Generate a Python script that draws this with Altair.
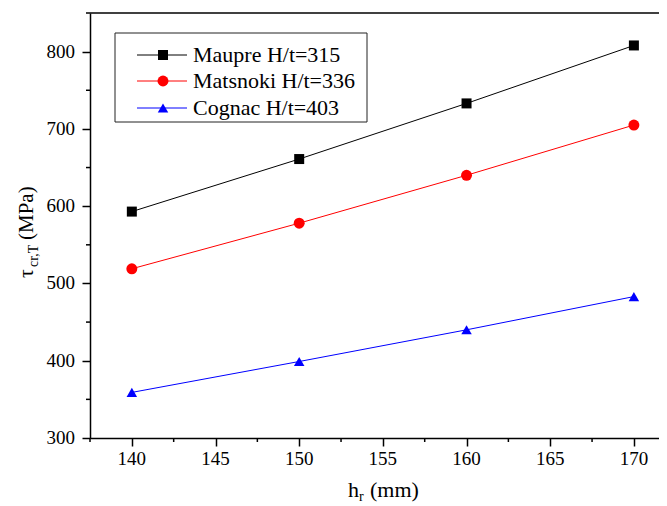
import altair as alt
import pandas as pd

hr = [140, 150, 160, 170]
maupre = [593, 661, 733, 808]
matsnoki = [519, 578, 640, 705]
cognac = [359, 399, 440, 483]

names = ["Maupre", "Matsnoki", "Cognac"]
ratios = ["315", "336", "403"]
colors = ["#000000", "#ff0000", "#0000ff"]
shapes = ["square", "circle", "triangle-up"]
sizes = [100, 120, 110]
series = [maupre, matsnoki, cognac]

x_major = [140, 145, 150, 155, 160, 165, 170]
x_minor = [137.5, 142.5, 147.5, 152.5, 157.5, 162.5, 167.5]
y_major = [300, 400, 500, 600, 700, 800]
y_minor = [350, 450, 550, 650, 750, 850]

FONT = "Liberation Serif"
W, H = 569, 425

# Times/Liberation Serif regular advance widths (em)
TW = {"M": .889, "a": .444, "u": .5, "p": .5, "r": .333, "e": .444, " ": .25,
      "t": .278, "s": .389, "n": .5, "o": .5, "k": .5, "i": .278, "C": .667,
      "g": .5, "c": .444}


def tw(s, size):
    return sum(TW.get(ch, .5) for ch in s) * size


rows = []
for n, vals in zip(names, series):
    for xv, yv in zip(hr, vals):
        rows.append({"hr": xv, "tau": yv, "series": n})
df = pd.DataFrame(rows)

xscale = alt.Scale(domain=[137.5, 171.5], nice=False, zero=False)
yscale = alt.Scale(domain=[300, 850], nice=False, zero=False)

xaxis = alt.Axis(
    title=None, values=x_major, grid=False, tickSize=8, labels=False,
    domainColor="black", tickColor="black", domainWidth=1.5, tickWidth=1.5,
)
yaxis = alt.Axis(
    title=None, values=y_major, grid=False, tickSize=8, labels=False,
    domainColor="black", tickColor="black", domainWidth=1.5, tickWidth=1.5,
)

X = alt.X("hr:Q", scale=xscale, axis=xaxis)
Y = alt.Y("tau:Q", scale=yscale, axis=yaxis)
base = alt.Chart(df).encode(x=X, y=Y)

layers = []
for n, c, sh, sz in zip(names, colors, shapes, sizes):
    sub = base.transform_filter(alt.datum.series == n)
    layers.append(sub.mark_line(color=c, strokeWidth=1))
    layers.append(sub.mark_point(color=c, fill=c, filled=True, shape=sh, size=sz, opacity=1))

# tick labels as text marks placed by the scales
layers.append(alt.Chart(pd.DataFrame({"hr": x_major})).mark_text(
    font=FONT, fontSize=19, align="center", baseline="top").encode(
    x=X, y=alt.value(H + 12), text=alt.Text("hr:Q", format="d")))
layers.append(alt.Chart(pd.DataFrame({"tau": y_major})).mark_text(
    font=FONT, fontSize=19, align="right", baseline="middle").encode(
    y=Y, x=alt.value(-15), text=alt.Text("tau:Q", format="d")))

# minor ticks
layers.append(alt.Chart(pd.DataFrame({"hr": x_minor})).mark_rule(color="black", strokeWidth=1.5).encode(
    x=X, y=alt.value(H), y2=alt.value(H + 4)))
layers.append(alt.Chart(pd.DataFrame({"tau": y_minor})).mark_rule(color="black", strokeWidth=1.5).encode(
    y=Y, x=alt.value(0), x2=alt.value(-4)))

one = pd.DataFrame({"k": [0]})

# top frame
layers.append(alt.Chart(one).mark_rule(color="black", strokeWidth=1.5).encode(
    x=alt.value(0), x2=alt.value(W), y=alt.value(0)))

# legend box
ox, oy = 90, 13  # page offset of plot origin
layers.append(alt.Chart(one).mark_rect(fill="white", stroke="#222", strokeWidth=1).encode(
    x=alt.value(115 - ox), x2=alt.value(367 - ox), y=alt.value(33 - oy), y2=alt.value(122 - oy)))

baselines = [62, 88, 115]
for i, (n, r, c, sh, sz) in enumerate(zip(names, ratios, colors, shapes, sizes)):
    bl = baselines[i] - oy
    cy = bl - 7
    ldf = pd.DataFrame({"name": [n + " "], "ht": ["H/t"], "eq": ["=" + r]})
    lc = alt.Chart(ldf)
    layers.append(lc.mark_rule(color=c, strokeWidth=1).encode(
        x=alt.value(137 - ox), x2=alt.value(187 - ox), y=alt.value(cy)))
    layers.append(lc.mark_point(color=c, fill=c, filled=True, shape=sh, size=sz, opacity=1).encode(
        x=alt.value(163 - ox), y=alt.value(cy)))
    x0 = 193 - ox
    w1 = tw(n + " ", 22)
    layers.append(lc.mark_text(font=FONT, fontSize=22, align="left", baseline="alphabetic").encode(
        x=alt.value(x0), y=alt.value(bl), text="name:N"))
    layers.append(lc.mark_text(font=FONT, fontSize=22, align="left", baseline="alphabetic").encode(
        x=alt.value(x0 + w1), y=alt.value(bl), text="ht:N"))
    layers.append(lc.mark_text(font=FONT, fontSize=22, align="left", baseline="alphabetic").encode(
        x=alt.value(x0 + w1 + 28), y=alt.value(bl), text="eq:N"))

# x title: h_r (mm)
xt = pd.DataFrame({"h": ["h"], "r": ["r"], "u": ["(mm)"]})
xc = alt.Chart(xt)
xb = 497 - oy
xs = 348 - ox
layers.append(xc.mark_text(font=FONT, fontSize=22, align="left", baseline="alphabetic").encode(
    x=alt.value(xs), y=alt.value(xb), text="h:N"))
layers.append(xc.mark_text(font=FONT, fontSize=14, align="left", baseline="alphabetic").encode(
    x=alt.value(xs + 11), y=alt.value(xb + 4), text="r:N"))
layers.append(xc.mark_text(font=FONT, fontSize=22, align="left", baseline="alphabetic").encode(
    x=alt.value(xs + 22), y=alt.value(xb), text="u:N"))

# y title: tau_{cr,T} (MPa)
yt = pd.DataFrame({"t": ["τ"], "s": ["cr,T"], "u": ["(MPa)"]})
yc = alt.Chart(yt)
ybx = 33 - ox
ys = 278 - oy
layers.append(yc.mark_text(font=FONT, fontSize=22, angle=270, align="left", baseline="alphabetic").encode(
    x=alt.value(ybx), y=alt.value(ys), text="t:N"))
layers.append(yc.mark_text(font=FONT, fontSize=14, angle=270, align="left", baseline="alphabetic").encode(
    x=alt.value(ybx + 5), y=alt.value(ys - 11), text="s:N"))
layers.append(yc.mark_text(font=FONT, fontSize=21, angle=270, align="left", baseline="alphabetic").encode(
    x=alt.value(ybx), y=alt.value(ys - 38), text="u:N"))

chart = alt.layer(*layers).properties(
    width=W, height=H,
    autosize=alt.AutoSizeParams(type="none"),
    padding={"left": 82, "top": 5, "right": 0, "bottom": 67},
    background="white",
).configure_view(stroke=None)

chart.save("out.html", embed_options={"renderer": "svg", "actions": False})
